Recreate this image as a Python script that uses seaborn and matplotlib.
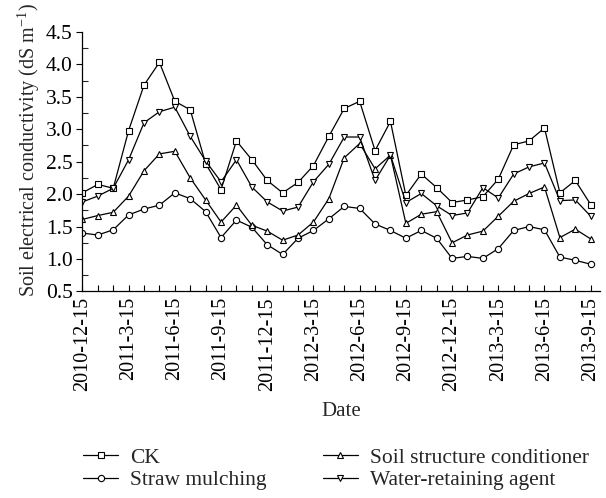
import matplotlib
matplotlib.use("Agg")
import matplotlib.pyplot as plt
import seaborn as sns
import pandas as pd
import numpy as np
from matplotlib.ticker import MultipleLocator

tick_labels = ["2010-12-15", "2011-3-15", "2011-6-15", "2011-9-15", "2011-12-15",
               "2012-3-15", "2012-6-15", "2012-9-15", "2012-12-15", "2013-3-15",
               "2013-6-15", "2013-9-15"]

ck = [2.02, 2.15, 2.09, 2.98, 3.68, 4.03, 3.43, 3.30, 2.47, 2.07, 2.82, 2.53,
      2.21, 2.02, 2.18, 2.44, 2.89, 3.32, 3.43, 2.67, 3.12, 1.98, 2.31, 2.10,
      1.87, 1.91, 1.96, 2.23, 2.76, 2.82, 3.02, 2.02, 2.21, 1.84]
straw = [1.40, 1.37, 1.45, 1.68, 1.77, 1.83, 2.02, 1.93, 1.73, 1.33, 1.60, 1.49,
         1.22, 1.07, 1.32, 1.44, 1.62, 1.81, 1.78, 1.54, 1.44, 1.32, 1.44, 1.32,
         1.01, 1.04, 1.01, 1.16, 1.44, 1.50, 1.45, 1.03, 0.98, 0.92]
soil = [1.61, 1.67, 1.72, 1.97, 2.36, 2.62, 2.66, 2.25, 1.91, 1.57, 1.83, 1.52,
        1.43, 1.29, 1.37, 1.57, 1.93, 2.56, 2.78, 2.39, 2.60, 1.55, 1.69, 1.73,
        1.25, 1.37, 1.43, 1.66, 1.89, 2.01, 2.11, 1.33, 1.46, 1.31]
water = [1.88, 1.97, 2.09, 2.53, 3.10, 3.27, 3.34, 2.89, 2.51, 2.19, 2.53, 2.11,
         1.88, 1.74, 1.80, 2.19, 2.46, 2.88, 2.88, 2.21, 2.60, 1.87, 2.01, 1.82,
         1.67, 1.71, 2.10, 1.94, 2.31, 2.42, 2.48, 1.90, 1.91, 1.66]

series_names = ["CK", "Straw mulching", "Soil structure conditioner", "Water-retaining agent"]
series_values = [ck, straw, soil, water]
series_markers = ["s", "o", "^", "v"]

sns.set_style("ticks")
plt.rcParams["font.family"] = ["Liberation Serif", "DejaVu Serif"]
plt.rcParams["mathtext.fontset"] = "custom"
plt.rcParams["mathtext.rm"] = "Liberation Serif"
plt.rcParams["mathtext.it"] = "Liberation Serif:italic"

fig = plt.figure(figsize=(6.06, 4.98), dpi=100)
ax = fig.add_axes([0.136, 0.4147, 0.854, 0.5213])

months = np.arange(len(ck))
for name, vals, mk in zip(series_names, series_values, series_markers):
    df = pd.DataFrame({"month": months, "value": vals})
    sns.lineplot(data=df, x="month", y="value", ax=ax, color="black", lw=0.9,
                 marker=mk, markersize=5.5, markerfacecolor="white",
                 markeredgecolor="black", markeredgewidth=0.8, label=name)

ax.set_xlim(0, 33.6)
ax.set_xticks(np.arange(0, len(ck), 3))
ax.set_xticklabels(tick_labels, rotation=90, fontsize=14.5)
ax.xaxis.set_minor_locator(MultipleLocator(1))
yt = np.arange(0.5, 4.51, 0.5)
ax.set_yticks(yt)
ax.set_yticklabels([f"{v:.1f}" for v in yt], fontsize=15.5)
ax.yaxis.set_minor_locator(MultipleLocator(0.25))
ax.set_ylim(0.5, 4.5)
ax.tick_params(axis="x", which="both", direction="in", length=4, width=0.8, colors="black", pad=4)
ax.tick_params(axis="y", which="major", direction="out", length=4, width=0.8, colors="black", pad=3)
ax.tick_params(axis="y", which="minor", direction="in", length=4, width=0.8)
for s in ["left", "bottom"]:
    ax.spines[s].set_linewidth(0.9)
    ax.spines[s].set_color("black")
sns.despine(ax=ax)

ax.set_xlabel("Date", fontsize=15, labelpad=8)
ax.set_ylabel("Soil electrical conductivity (dS m$^{-1}$)", fontsize=14.5, labelpad=3)
ax.yaxis.label.set_y(0.545)

handles, labels = ax.get_legend_handles_labels()
for h in handles:
    h.set_markersize(4.5)
ax.legend(handles, labels, ncol=2, frameon=False, fontsize=15.5,
          loc="upper left", bbox_to_anchor=(0.123, 0.118), bbox_transform=fig.transFigure,
          handlelength=1.63, handletextpad=0.56, columnspacing=2.6, labelspacing=0.1,
          borderaxespad=0)

fig.savefig("out.png", dpi=100)
